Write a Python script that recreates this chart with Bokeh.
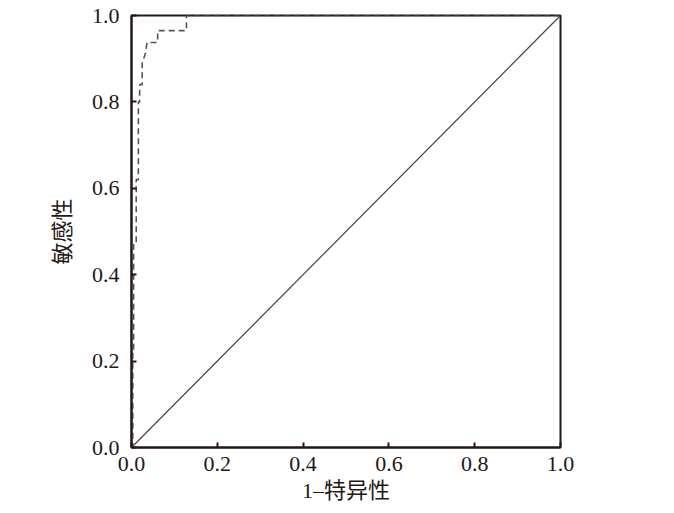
from bokeh.plotting import figure
from bokeh.models import Range1d, FixedTicker, PrintfTickFormatter
from bokeh.embed import file_html
from bokeh.resources import INLINE

# ROC curve (1 - specificity, sensitivity), step-wise
fpr = [0.0, 0.003, 0.003, 0.005, 0.005, 0.011, 0.011, 0.016, 0.016, 0.019, 0.019,
       0.025, 0.025, 0.033, 0.036, 0.061, 0.061, 0.128, 0.128, 1.0]
tpr = [0.0, 0.0, 0.22, 0.22, 0.47, 0.47, 0.62, 0.62, 0.80, 0.80, 0.84,
       0.84, 0.89, 0.914, 0.9375, 0.9375, 0.965, 0.965, 1.0, 1.0]
ref_x = [0.0, 1.0]
ref_y = [0.0, 1.0]
ticks = [0.0, 0.2, 0.4, 0.6, 0.8, 1.0]

ink = "#231815"
serif = "'Liberation Serif', 'Noto Sans CJK SC', serif"

p = figure(frame_width=429, frame_height=432,
           min_border_left=131, min_border_top=15, min_border_right=60, min_border_bottom=55,
           x_range=Range1d(0, 1), y_range=Range1d(0, 1),
           output_backend="svg", toolbar_location=None,
           background_fill_color="white", border_fill_color="white")
p.grid.visible = False
p.outline_line_color = ink
p.outline_line_width = 2

p.line(ref_x, ref_y, line_color="#444444", line_width=1.2)
p.line(fpr, tpr, line_color="#555555", line_width=1.6, line_dash="6 4")

for ax in (p.xaxis[0], p.yaxis[0]):
    ax.ticker = FixedTicker(ticks=ticks)
    ax.formatter = PrintfTickFormatter(format="%.1f")
    ax.axis_line_color = ink
    ax.axis_line_width = 2
    ax.major_tick_in = 5
    ax.major_tick_out = 0
    ax.major_tick_line_color = ink
    ax.major_tick_line_width = 2
    ax.minor_tick_line_color = None
    ax.major_label_text_font = serif
    ax.major_label_text_font_size = "22px"
    ax.major_label_text_color = ink
    ax.axis_label_text_font = serif
    ax.axis_label_text_font_size = "22px"
    ax.axis_label_text_font_style = "normal"
    ax.axis_label_text_color = ink

p.xaxis.axis_label = "1–特异性"
p.yaxis.axis_label = "敏感性"
p.xaxis.major_label_standoff = 9
p.yaxis.major_label_standoff = 12
p.xaxis.axis_label_standoff = 4
p.yaxis.axis_label_standoff = 14

open("out.html", "w").write(file_html(p, INLINE))
